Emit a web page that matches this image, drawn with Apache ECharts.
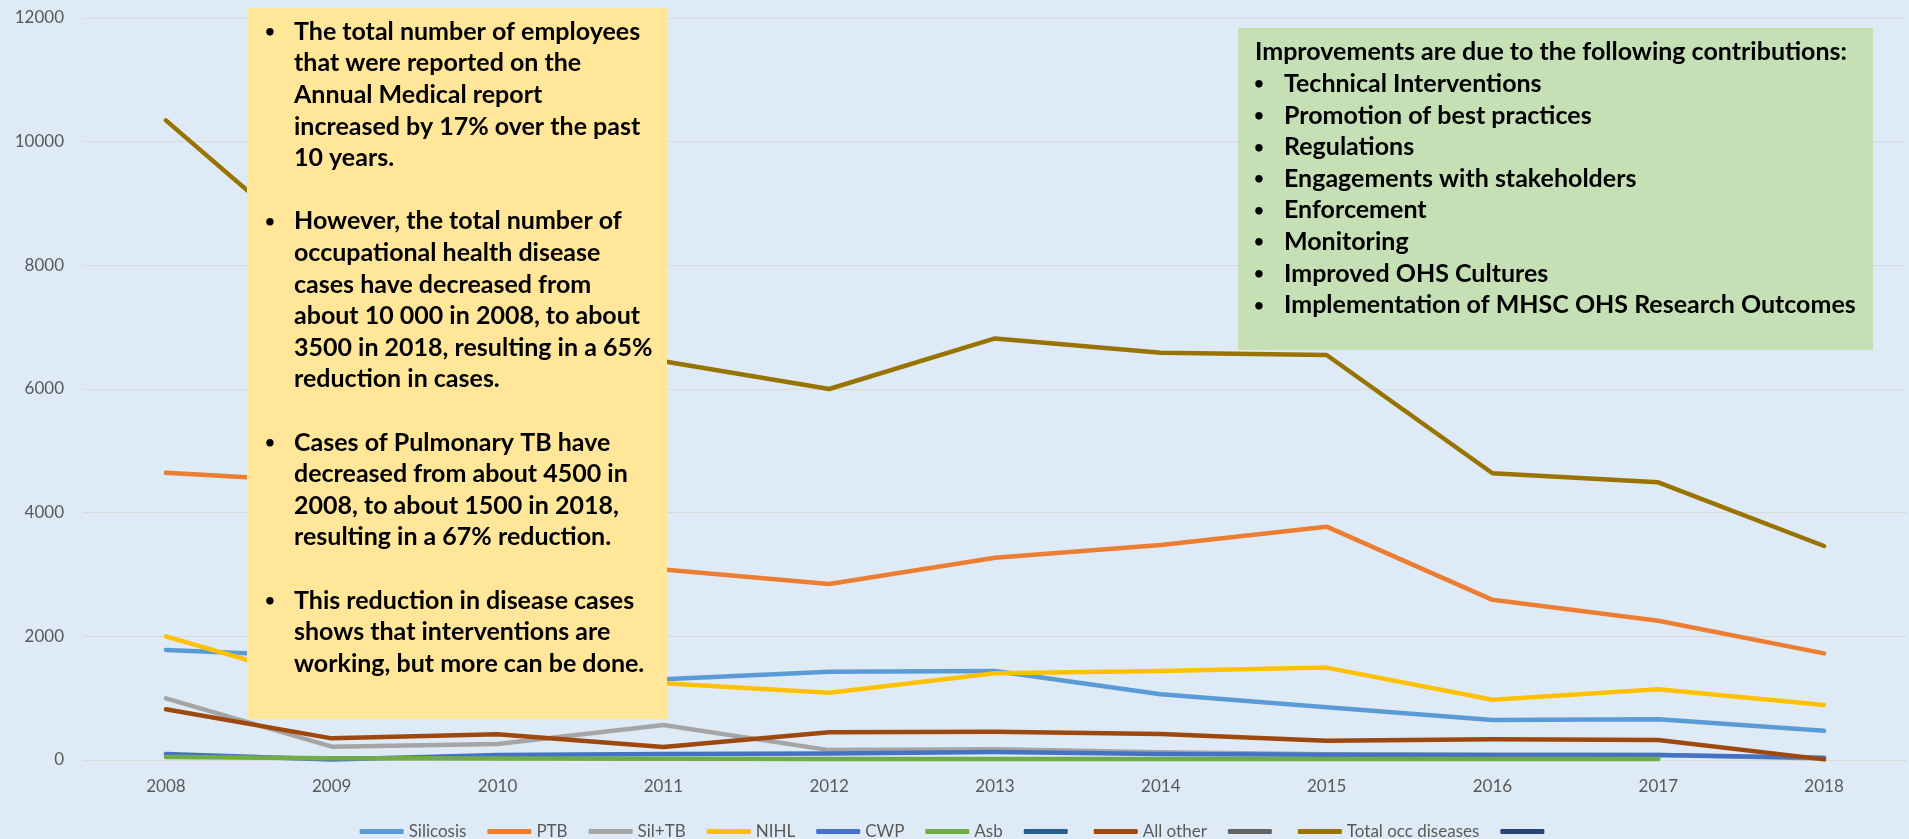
<!DOCTYPE html>
<html>
<head>
<meta charset="utf-8">
<script src="https://cdn.jsdelivr.net/npm/echarts@6/dist/echarts.min.js"></script>
<style>
html,body{margin:0;padding:0;background:#DEEBF7;}
#chart{width:1909px;height:839px;}
</style>
</head>
<body>
<div id="chart"></div>
<script>
// ---- data ----
const years = ['2008','2009','2010','2011','2012','2013','2014','2015','2016','2017','2018'];
const silicosis = [1780, 1670, 1450, 1305, 1428, 1440, 1062, 852, 645, 660, 472];
const ptb       = [4645, 4495, 3900, 3080, 2846, 3271, 3477, 3774, 2590, 2253, 1725];
const silTb     = [997, 216, 259, 566, 160, 173, 125, 95, 85, 80, 25];
const nihl      = [2000, 1221, 1000, 1240, 1089, 1402, 1440, 1494, 975, 1145, 890];
const cwp       = [97, 10, 80, 97, 105, 130, 97, 85, 80, 80, 38];
const asb       = [50, 30, 25, 20, 18, 16, 16, 16, 16, 16, null];
const allOther  = [820, 350, 415, 210, 447, 458, 420, 313, 334, 323, 10];
const totalOcc  = [10345, 8035, 7130, 6450, 6000, 6818, 6588, 6550, 4637, 4491, 3461];
const blankA = [], blankB = [], blankC = [];

// unnamed series in the source legend use zero-width names
const seriesNames = ['Silicosis','PTB','Sil+TB','NIHL','CWP','Asb','\u200b','All other','\u200b\u200b','Total occ diseases','\u200b\u200b\u200b'];
const seriesData  = [silicosis, ptb, silTb, nihl, cwp, asb, blankA, allOther, blankB, totalOcc, blankC];
const seriesColors = ['#5B9BD5','#ED7D31','#A5A5A5','#FFC000','#4472C4','#70AD47','#255E91','#9E480E','#636363','#997300','#264478'];

// ---- annotation text ----
const yellowLines = [
  'The total number of employees',
  'that were reported on the',
  'Annual Medical report',
  'increased by 17% over the past',
  '10 years.',
  '',
  'However, the total number of',
  'occupational health disease',
  'cases have decreased from',
  'about 10 000 in 2008, to about',
  '3500 in 2018, resulting in a 65%',
  'reduction in cases.',
  '',
  'Cases of Pulmonary TB have',
  'decreased from about 4500 in',
  '2008, to about 1500 in 2018,',
  'resulting in a 67% reduction.',
  '',
  'This reduction in disease cases',
  'shows that interventions are',
  'working, but more can be done.'
];
const yellowBulletRows = [0, 6, 13, 18];
const greenHeading = 'Improvements are due to the following contributions:';
const greenItems = [
  'Technical Interventions',
  'Promotion of best practices',
  'Regulations',
  'Engagements with stakeholders',
  'Enforcement',
  'Monitoring',
  'Improved OHS Cultures',
  'Implementation of MHSC OHS Research Outcomes'
];

const boxFont = 'Lato';
const boxSize = 25;
const bulletSize = 17;
const LH = 31.6;

const yellowBullets = yellowLines.map((l, i) => yellowBulletRows.includes(i) ? '•' : '').join('\n');

const chart = echarts.init(document.getElementById('chart'));
chart.setOption({
  backgroundColor: '#DEEBF7',
  animation: false,
  grid: { left: 83, right: 2, top: 18, bottom: 79, containLabel: false },
  legend: {
    data: seriesNames,
    top: 818,
    left: 'center',
    icon: 'roundRect',
    itemWidth: 44,
    itemHeight: 5,
    itemGap: 21,
    textStyle: { color: '#595959', fontSize: 17, fontFamily: 'Lato' }
  },
  xAxis: {
    type: 'category',
    data: years,
    boundaryGap: true,
    axisLine: { show: true, lineStyle: { color: '#D9D9D9', width: 1 } },
    axisTick: { show: false },
    axisLabel: { color: '#595959', fontSize: 17, fontFamily: 'Lato', margin: 18 }
  },
  yAxis: {
    type: 'value',
    min: 0, max: 12000, interval: 2000,
    axisLine: { show: false },
    axisTick: { show: false },
    splitLine: { lineStyle: { color: '#D9D9D9', width: 1 } },
    axisLabel: { color: '#595959', fontSize: 17, fontFamily: 'Lato', margin: 19, formatter: v => String(v) }
  },
  series: seriesNames.map((n, i) => ({
    name: n,
    type: 'line',
    data: seriesData[i],
    symbol: 'none',
    color: seriesColors[i],
    lineStyle: { width: 4.5, color: seriesColors[i], cap: 'round', join: 'round' },
    connectNulls: false
  })),
  graphic: [
    { type: 'rect', z: 100, shape: { x: 247, y: 8, width: 420, height: 711 }, style: { fill: '#FFE699' } },
    { type: 'text', z: 101, x: 265, y: 16, style: { text: yellowBullets, fontFamily: boxFont, fontWeight: 'bold', fontSize: bulletSize, lineHeight: LH, fill: '#000' } },
    { type: 'text', z: 101, x: 294, y: 16, style: { text: yellowLines.join('\n'), fontFamily: boxFont, fontWeight: 'bold', fontSize: boxSize, lineHeight: LH, fill: '#000' } },
    { type: 'rect', z: 100, shape: { x: 1238, y: 28, width: 635, height: 322 }, style: { fill: '#C5E0B4' } },
    { type: 'text', z: 101, x: 1255, y: 36.5, style: { text: greenHeading, fontFamily: boxFont, fontWeight: 'bold', fontSize: boxSize, lineHeight: LH, fill: '#000' } },
    { type: 'text', z: 101, x: 1254, y: 36.5 + LH, style: { text: greenItems.map(() => '•').join('\n'), fontFamily: boxFont, fontWeight: 'bold', fontSize: bulletSize, lineHeight: LH, fill: '#000' } },
    { type: 'text', z: 101, x: 1284, y: 36.5 + LH, style: { text: greenItems.join('\n'), fontFamily: boxFont, fontWeight: 'bold', fontSize: boxSize, lineHeight: LH, fill: '#000' } }
  ]
});
</script>
</body>
</html>
